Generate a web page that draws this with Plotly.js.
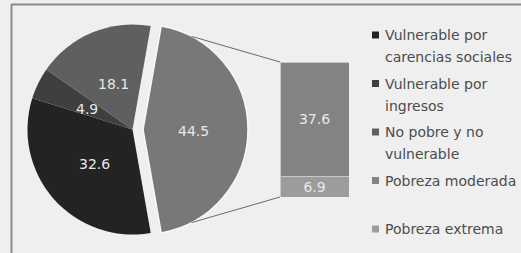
<!DOCTYPE html>
<html>
<head>
<meta charset="utf-8">
<script src="https://cdn.plot.ly/plotly-3.0.1.min.js"></script>
<style>html,body{margin:0;padding:0;background:#efefef;}#chart{width:521px;height:253px;}</style>
</head>
<body>
<div id="chart"></div>
<script>
// ---- data ----
var pieLabels = ["Pobreza", "Vulnerable por carencias sociales", "Vulnerable por ingresos", "No pobre y no vulnerable"];
var pieValues = [44.5, 32.6, 4.9, 18.1];
var pieColors = ["#787878", "#232321", "#3f3f3f", "#5f5f5f"];
var barCategory = ["Pobreza"];
var barLabels = ["Pobreza extrema", "Pobreza moderada"];
var barValues = [6.9, 37.6];
var barColors = ["#9c9c9c", "#838383"];
var legendLabels = ["Vulnerable por\ncarencias sociales", "Vulnerable por\ningresos", "No pobre y no\nvulnerable", "Pobreza moderada", "Pobreza extrema"];
var legendColors = ["#232321", "#3f3f3f", "#5f5f5f", "#838383", "#9c9c9c"];

var W = 521, H = 253;
var pull = 0.1;
var pieDom = {x: [17 / W, 248 / W], y: [8 / H, 239 / H]};
var barDomX = [280 / W, 349 / W];
var barDomY = [(H - 197) / H, (H - 62) / H];

var total = pieValues.reduce(function (a, b) { return a + b; }, 0);
var rotation = 90 - pieValues[0] / total * 180;

var traces = [{
  type: "pie",
  labels: pieLabels,
  values: pieValues,
  sort: false,
  direction: "clockwise",
  rotation: rotation,
  pull: pieValues.map(function (v, i) { return i === 0 ? pull : 0; }),
  marker: {colors: pieColors, line: {color: "#f7f7f7", width: pieValues.map(function (v, i) { return i === 0 ? 1.5 : 0; })}},
  textinfo: "none",
  domain: pieDom,
  showlegend: false,
  hoverinfo: "none"
}];
barValues.forEach(function (v, i) {
  traces.push({
    type: "bar",
    x: barCategory,
    y: [v],
    name: barLabels[i],
    text: [String(v)],
    textposition: "inside",
    insidetextanchor: "middle",
    constraintext: "none",
    textfont: {family: "DejaVu Sans", size: 14, color: "#e8e8e8"},
    marker: {color: barColors[i], line: {color: "#c8c8c8", width: 1}},
    xaxis: "x", yaxis: "y",
    showlegend: false,
    hoverinfo: "none"
  });
});

// pie geometry (mirrors Plotly's own pie sizing)
var boxW = W * (pieDom.x[1] - pieDom.x[0]), boxH = H * (pieDom.y[1] - pieDom.y[0]);
var r = Math.min(boxW, boxH) / (2 + 2 * pull);
var pcx = W * (pieDom.x[0] + pieDom.x[1]) / 2;
var pcy = H * (1 - (pieDom.y[0] + pieDom.y[1]) / 2);

var annotations = [];
// slice value labels along each slice bisector
var acc = rotation;
pieValues.forEach(function (v, i) {
  var span = v / total * 360;
  var mid = (acc + span / 2) * Math.PI / 180;
  acc += span;
  var p = (i === 0 ? pull : 0);
  var ccx = pcx + p * r * Math.sin(mid), ccy = pcy - p * r * Math.cos(mid);
  var f = 0.48;
  var x = ccx + f * r * Math.sin(mid), y = ccy - f * r * Math.cos(mid) + 1.5;
  annotations.push({xref: "paper", yref: "paper", x: x / W, y: 1 - y / H, xanchor: "center", yanchor: "middle", text: String(v), showarrow: false, font: {family: "DejaVu Sans", size: 14, color: "#e8e8e8"}});
});

// connector lines from the exploded slice to the bar corners
var exCx = pcx + pull * r, exCy = pcy;
var ang = 62.5 * Math.PI / 180;
var barLeftPx = barDomX[0] * W;
var barTopPx = (1 - barDomY[1]) * H, barBotPx = (1 - barDomY[0]) * H;
var sTop = [exCx + r * Math.cos(ang), exCy - r * Math.sin(ang)];
var sBot = [exCx + r * Math.cos(ang), exCy + r * Math.sin(ang)];

var shapes = [
  {type: "line", xref: "paper", yref: "paper", x0: sTop[0] / W, y0: 1 - sTop[1] / H, x1: barLeftPx / W, y1: 1 - barTopPx / H, line: {color: "#6a6a6a", width: 1}},
  {type: "line", xref: "paper", yref: "paper", x0: sBot[0] / W, y0: 1 - sBot[1] / H, x1: barLeftPx / W, y1: 1 - barBotPx / H, line: {color: "#6a6a6a", width: 1}},
  {type: "line", xref: "paper", yref: "paper", x0: 11.5 / W, x1: 11.5 / W, y0: 0, y1: 1 - 4 / H, line: {color: "#8a8a8a", width: 2}},
  {type: "line", xref: "paper", yref: "paper", x0: 11.5 / W, x1: 1, y0: 1 - 4.5 / H, y1: 1 - 4.5 / H, line: {color: "#8a8a8a", width: 2}}
];
var legX = 372, legY0 = 35, legStep = 48.5, lineStep = 22;
legendLabels.forEach(function (lab, i) {
  var yc = legY0 + i * legStep;
  shapes.push({type: "rect", xref: "paper", yref: "paper", x0: legX / W, x1: (legX + 7) / W, y0: 1 - (yc - 3.5) / H, y1: 1 - (yc + 3.5) / H, fillcolor: legendColors[i], line: {width: 0}});
  lab.split("\n").forEach(function (ln, j) {
    annotations.push({xref: "paper", yref: "paper", x: (legX + 11) / W, y: 1 - (yc + j * lineStep) / H, xanchor: "left", yanchor: "middle", text: ln, showarrow: false, font: {family: "DejaVu Sans", size: 14, color: "#4c4c4c"}});
  });
});

var layout = {
  width: W, height: H,
  margin: {l: 0, r: 0, t: 0, b: 0},
  paper_bgcolor: "#efefef", plot_bgcolor: "rgba(0,0,0,0)",
  barmode: "stack", bargap: 0,
  xaxis: {domain: barDomX, range: [-0.5, 0.5], visible: false, fixedrange: true},
  yaxis: {domain: barDomY, range: [0, 44.5], visible: false, fixedrange: true},
  showlegend: false,
  shapes: shapes,
  annotations: annotations
};
Plotly.newPlot("chart", traces, layout, {displayModeBar: false, staticPlot: true});
</script>
</body>
</html>
